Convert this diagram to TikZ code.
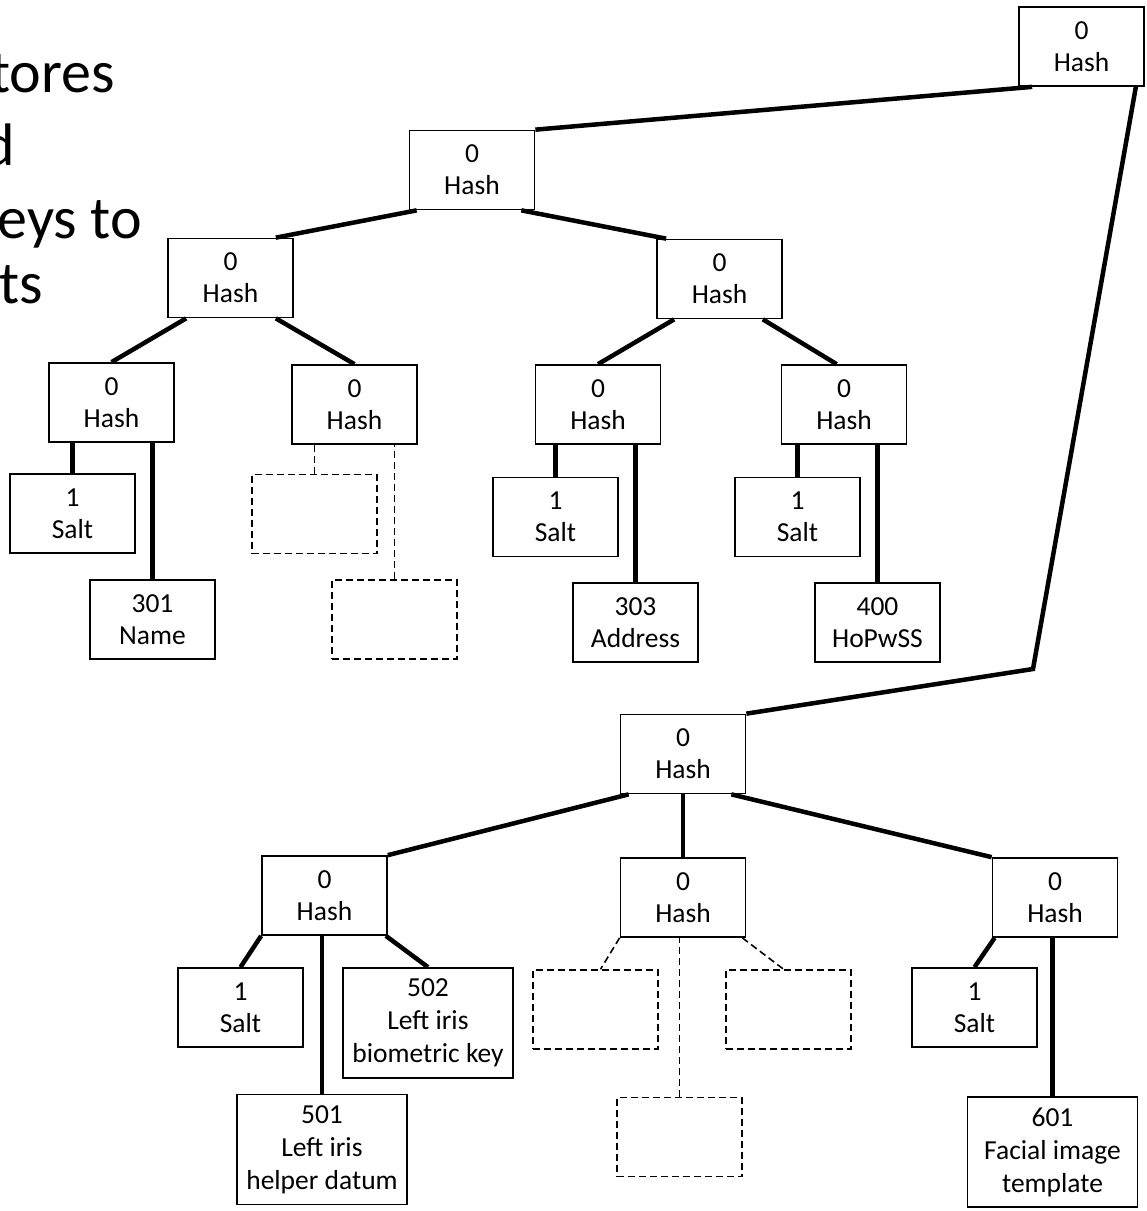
\documentclass[tikz,border=0pt]{standalone}
\usepackage{fontspec}
\setmainfont{Carlito}
\usetikzlibrary{calc}
\begin{document}
\begin{tikzpicture}[x=1pt,y=-1pt,
  box/.style={draw, line width=1.7pt, minimum width=125pt, minimum height=79pt,
    inner sep=0pt, align=center, font=\fontsize{27.5}{32}\selectfont},
  tallbox/.style={box, minimum width=170pt, minimum height=110pt,
    font=\fontsize{27.5}{33}\selectfont},
  ghost/.style={draw, line width=1.6pt, dash pattern=on 7pt off 4pt,
    minimum width=125pt, minimum height=79pt, inner sep=0pt},
  link/.style={line width=4.5pt},
  ghostlink/.style={line width=1.6pt, dash pattern=on 7pt off 4pt},
  bigtext/.style={anchor=base east, inner sep=0pt, font=\fontsize{60}{73}\selectfont}]
\useasboundingbox (0,0) rectangle (1147,1211);

% caption text running off the left edge
\begin{scope}
  \clip (0,0) rectangle (1147,1211);
  \node[bigtext] (t1) at (115,92) {tores};
  \node[bigtext] (t2) at (15,165) {d};
  \node[bigtext] (t3) at (142,238) {eys to};
  \node[bigtext] (t4) at (43,303) {ts};
\end{scope}

% upper hash tree
\node[box] (root) at (1081.5,46.5) {0\\Hash};
\node[box] (h1) at (472,170) {0\\Hash};
\node[box] (hA) at (230.5,278) {0\\Hash};
\node[box] (hB) at (719.5,279) {0\\Hash};
\node[box] (hC) at (111.5,402.5) {0\\Hash};
\node[box] (hD) at (354.5,404.5) {0\\Hash};
\node[box] (hE) at (598,404.5) {0\\Hash};
\node[box] (hF) at (844,404.5) {0\\Hash};
\node[box] (saltC) at (72.5,513.5) {1\\Salt};
\node[box] (name) at (152.5,619.5) {301\\Name};
\node[ghost] (gD1) at (314.5,514) {};
\node[ghost] (gD2) at (394.5,619.5) {};
\node[box] (saltE) at (555.5,517) {1\\Salt};
\node[box] (addr) at (635.5,622.5) {303\\Address};
\node[box] (saltF) at (797.5,517) {1\\Salt};
\node[box] (hopw) at (877.5,622.5) {400\\HoPwSS};

% lower hash tree
\node[box] (hM) at (683,754) {0\\Hash};
\node[box] (hG) at (324.5,895.5) {0\\Hash};
\node[box] (hH) at (683,897.5) {0\\Hash};
\node[box] (hI) at (1055,897.5) {0\\Hash};
\node[box] (saltG) at (240.5,1007.5) {1\\Salt};
\node[tallbox] (k502) at (428,1023) {502\\Left iris\\biometric key};
\node[tallbox] (k501) at (322,1149.5) {501\\Left iris\\helper datum};
\node[ghost] (gHL) at (595.5,1009.5) {};
\node[ghost] (gHR) at (788.5,1009.5) {};
\node[ghost] (gHB) at (679.5,1137) {};
\node[box] (saltI) at (974.5,1007.5) {1\\Salt};
\node[tallbox] (k601) at (1052.5,1152) {601\\Facial image\\template};

\coordinate (bend) at (1033,669);

% connectors of the upper tree
\draw[link] ($(root.south west)+(14,0)$) -- (h1.north east);
\draw[link] ($(root.south east)+(-9,0)$) -- (bend) -- (hM.north east);
\draw[link] ($(h1.south west)+(8,0)$) -- ($(hA.north east)+(-18,0)$);
\draw[link] ($(h1.south east)+(-14,0)$) -- ($(hB.north west)+(10,0)$);
\draw[link] ($(hA.south west)+(19,0)$) -- (hC.north);
\draw[link] ($(hA.south east)+(-18,0)$) -- (hD.north);
\draw[link] ($(hB.south west)+(18,0)$) -- (hE.north);
\draw[link] ($(hB.south east)+(-20,0)$) -- ($(hF.north west)+(56,0)$);
\draw[link] (saltC.north) -- (saltC.north |- hC.south);
\draw[link] (name.north) -- (name.north |- hC.south);
\draw[ghostlink] (gD1.north) -- (gD1.north |- hD.south);
\draw[ghostlink] (gD2.north) -- (gD2.north |- hD.south);
\draw[link] (saltE.north) -- (saltE.north |- hE.south);
\draw[link] (addr.north) -- (addr.north |- hE.south);
\draw[link] (saltF.north) -- (saltF.north |- hF.south);
\draw[link] (hopw.north) -- (hopw.north |- hF.south);

% connectors of the lower tree
\draw[link] ($(hM.south west)+(9,0)$) -- (hG.north east);
\draw[link] (hM.south) -- (hH.north);
\draw[link] ($(hM.south east)+(-15,0)$) -- (hI.north west);
\draw[link] (hG.south west) -- (saltG.north);
\draw[link] (k501.north) -- (k501.north |- hG.south);
\draw[link] ($(hG.south east)+(-2,0)$) -- (k502.north);
\draw[ghostlink] (hH.south west) -- ($(gHL.north)+(5,0)$);
\draw[ghostlink] (gHB.north) -- (gHB.north |- hH.south);
\draw[ghostlink] ($(hH.south east)+(-4,0)$) -- ($(gHR.north)+(-5,0)$);
\draw[link] ($(hI.south west)+(3,0)$) -- (saltI.north);
\draw[link] (k601.north) -- (k601.north |- hI.south);
\end{tikzpicture}
\end{document}
